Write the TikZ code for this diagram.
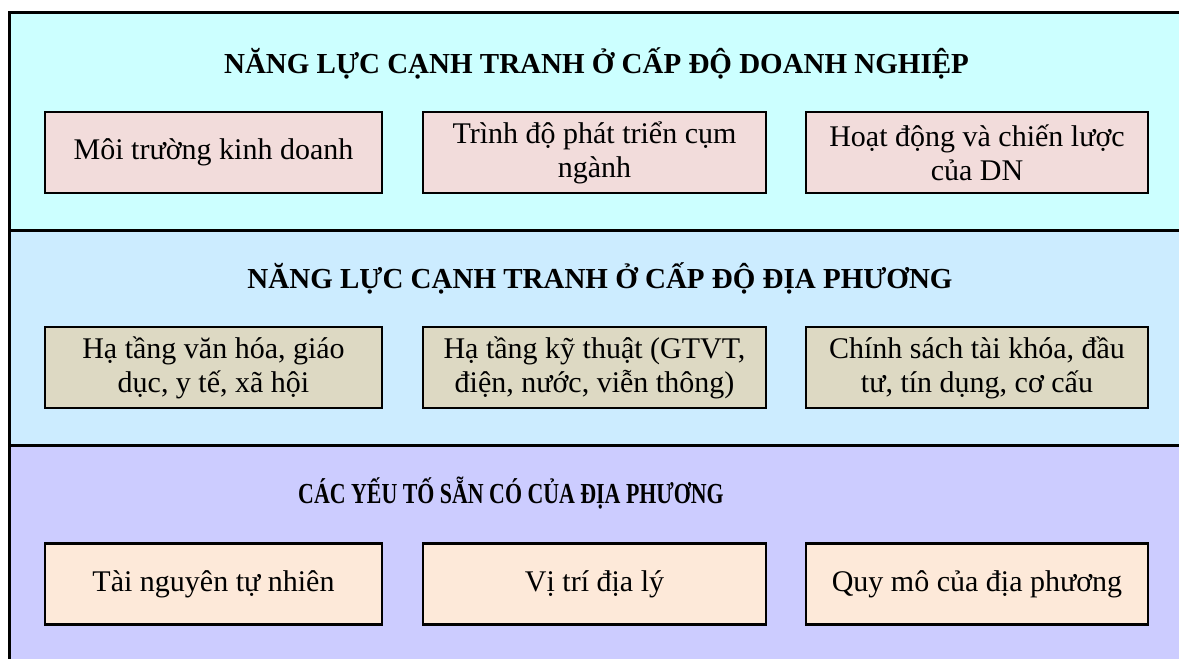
\documentclass[tikz,border=0pt]{standalone}
\usepackage{fontspec}
\setmainfont{Liberation Serif}
\definecolor{bandA}{HTML}{CCFFFF}
\definecolor{bandB}{HTML}{CCECFF}
\definecolor{bandC}{HTML}{CCCCFF}
\definecolor{cellA}{HTML}{F2DCDB}
\definecolor{cellB}{HTML}{DDD9C3}
\definecolor{cellC}{HTML}{FDE9D9}
\tikzset{
  band/.style={draw=black, line width=3pt},
  cell/.style={draw=black, line width=2.2pt, minimum height=81pt,
    align=center, inner sep=0pt, font=\fontsize{30}{34}\selectfont},
  heading/.style={anchor=base, inner sep=0pt, font=\fontsize{29}{34}\selectfont\bfseries},
}
\begin{document}
\begin{tikzpicture}[x=1pt, y=-1pt]
\useasboundingbox (0,0) rectangle (1179,659);
% three stacked bands
\fill[bandA] (9,12) rectangle (1185,230);
\fill[bandB] (9,230) rectangle (1185,445);
\fill[bandC] (9,445) rectangle (1185,665);
\draw[band] (9,665) -- (9,12) -- (1185,12);
\draw[band] (9,230) -- (1185,230);
\draw[band] (9,445) -- (1185,445);
% headings
\node[heading] (h1) at (596.5,73) {NĂNG LỰC CẠNH TRANH Ở CẤP ĐỘ DOANH NGHIỆP};
\node[heading] (h2) at (600,288) {NĂNG LỰC CẠNH TRANH Ở CẤP ĐỘ ĐỊA PHƯƠNG};
\node[heading, xscale=0.755] (h3) at (511,503) {CÁC YẾU TỐ SẴN CÓ CỦA ĐỊA PHƯƠNG};
% firm level
\node[cell, fill=cellA, minimum width=337pt] (a1) at (213.5,152.5) {Môi trường kinh doanh};
\node[cell, fill=cellA, minimum width=343pt] (a2) at (594.5,152.5) {Trình độ phát triển cụm\\ngành};
\node[cell, fill=cellA, minimum width=342pt] (a3) at (977,152.5) {Hoạt động và chiến lược\\của DN};
% local level
\node[cell, fill=cellB, minimum width=337pt] (b1) at (213.5,367.5) {Hạ tầng văn hóa, giáo\\dục, y tế, xã hội};
\node[cell, fill=cellB, minimum width=343pt] (b2) at (594.5,367.5) {Hạ tầng kỹ thuật (GTVT,\\điện, nước, viễn thông)};
\node[cell, fill=cellB, minimum width=342pt] (b3) at (977,367.5) {Chính sách tài khóa, đầu\\tư, tín dụng, cơ cấu};
% endowments
\node[cell, fill=cellC, minimum width=337pt] (c1) at (213.5,584) {Tài nguyên tự nhiên};
\node[cell, fill=cellC, minimum width=343pt] (c2) at (594.5,584) {Vị trí địa lý};
\node[cell, fill=cellC, minimum width=342pt] (c3) at (977,584) {Quy mô của địa phương};
\end{tikzpicture}
\end{document}
